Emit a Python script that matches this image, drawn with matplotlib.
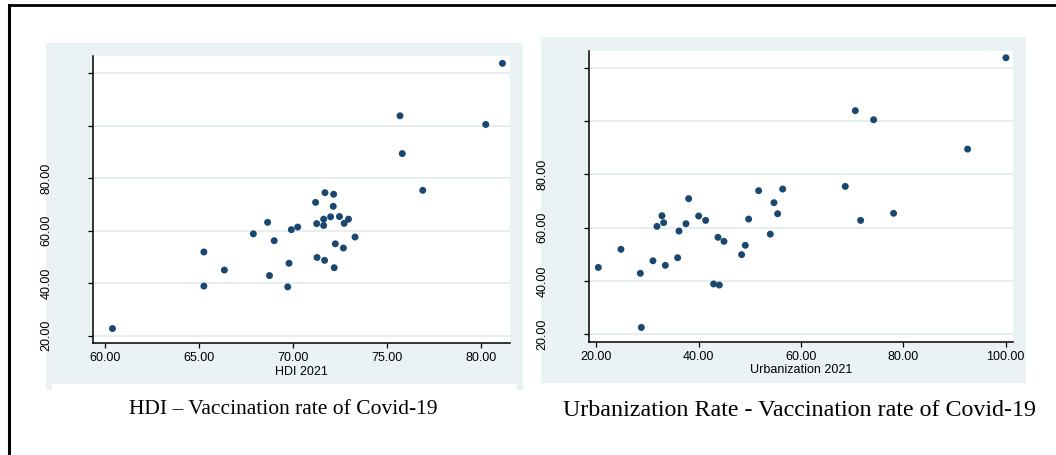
import matplotlib
matplotlib.use("Agg")
import matplotlib.pyplot as plt
from matplotlib.patches import Rectangle
from matplotlib.lines import Line2D

# ---------------- data ----------------
hdi = [60.40, 65.26, 65.26, 66.35, 67.89, 68.65, 68.75, 69.00, 69.72, 69.79,
       69.91, 70.25, 71.20, 71.26, 71.28, 71.70, 71.63, 71.63, 71.68, 72.16,
       72.14, 72.00, 72.25, 72.19, 72.47, 72.72, 72.95, 72.68, 73.30, 75.69,
       75.81, 76.90, 80.25, 81.14]
vacc_hdi = [22.7, 51.9, 38.9, 45.0, 58.8, 63.2, 42.9, 56.2, 38.6, 47.6,
            60.4, 61.4, 70.8, 62.7, 49.8, 74.5, 64.4, 62.0, 48.7, 73.9,
            69.3, 65.3, 55.0, 45.9, 65.4, 62.8, 64.4, 53.4, 57.6, 103.8,
            89.4, 75.4, 100.5, 123.8]

urban = [20.39, 24.82, 28.60, 28.80, 31.07, 31.86, 32.83, 33.16, 33.49, 35.90,
         36.16, 37.52, 38.05, 40.00, 41.37, 42.93, 43.78, 44.04, 44.95, 48.40,
         49.12, 49.77, 51.73, 54.00, 54.72, 55.44, 56.42, 68.66, 70.62, 71.66,
         74.20, 78.10, 92.57, 100.06]
vacc_urban = [45.1, 51.9, 42.9, 22.6, 47.6, 60.5, 64.5, 61.9, 45.9, 48.75,
              58.75, 61.5, 70.9, 64.4, 62.75, 38.9, 56.4, 38.5, 54.9, 49.9,
              53.4, 63.25, 73.9, 57.6, 69.4, 65.25, 74.5, 75.5, 103.9, 62.75,
              100.5, 65.4, 89.5, 123.75]

y_ticks = [20, 40, 60, 80, 100, 120]
y_ticklabels = ["20.00", "40.00", "60.00", "80.00", "", ""]
x1_ticks = [60, 65, 70, 75, 80]
x1_ticklabels = ["60.00", "65.00", "70.00", "75.00", "80.00"]
x2_ticks = [20, 40, 60, 80, 100]
x2_ticklabels = ["20.00", "40.00", "60.00", "80.00", "100.00"]
x1_label = "HDI 2021"
x2_label = "Urbanization 2021"
caption1 = "HDI \u2013 Vaccination rate of Covid-19"
caption2 = "Urbanization Rate - Vaccination rate of Covid-19"

# ---------------- style ----------------
W, H = 1056, 455
BG = "#EAF2F3"
GRID = "#E4EDEF"
NAVY = "#1a476f"
plt.rcParams["font.family"] = ["Liberation Sans", "DejaVu Sans"]

fig = plt.figure(figsize=(W / 100, H / 100), dpi=100)
fig.patch.set_facecolor("white")


def fx(px):
    return px / W


def fy(py):
    return 1 - py / H


def rect_px(x0, y0, x1, y1, color, z=-2):
    fig.patches.append(Rectangle((fx(x0), fy(y1)), fx(x1) - fx(x0), fy(y0) - fy(y1),
                                 transform=fig.transFigure, facecolor=color,
                                 edgecolor="none", zorder=z))


# panel backgrounds
rect_px(46, 43, 523, 390, BG, z=-2)
rect_px(52, 384, 517, 400, "white", z=-1.5)
rect_px(541, 37, 1026, 383, BG, z=-2)

# outer border (top and left)
fig.lines.append(Line2D([fx(9), fx(1056)], [fy(5), fy(5)], transform=fig.transFigure,
                        color="black", lw=2.0, zorder=5))
fig.lines.append(Line2D([fx(9), fx(9)], [fy(5), fy(455)], transform=fig.transFigure,
                        color="black", lw=2.2, zorder=5))


def make_panel(rect, x, y, xticks, xticklabels, xlim, ylim, xlabel):
    ax = fig.add_axes(rect)
    ax.set_zorder(2)
    ax.set_facecolor("white")
    ax.scatter(x, y, s=25, color=NAVY, edgecolors="none", zorder=3)
    ax.set_xlim(*xlim)
    ax.set_ylim(*ylim)
    ax.set_yticks(y_ticks)
    ax.set_yticklabels(y_ticklabels, rotation=90, va="center", fontsize=9)
    ax.set_xticks(xticks)
    ax.set_xticklabels(xticklabels, fontsize=9)
    ax.yaxis.grid(True, color=GRID, lw=1.3)
    ax.set_axisbelow(True)
    for s in ["top", "right"]:
        ax.spines[s].set_visible(False)
    for s in ["left", "bottom"]:
        ax.spines[s].set_linewidth(1.1)
        ax.spines[s].set_color("black")
    ax.tick_params(axis="y", length=3.6, width=0.9, pad=26)
    ax.tick_params(axis="x", length=3.6, width=0.9, pad=3)
    ax.set_xlabel(xlabel, fontsize=9, labelpad=1)
    return ax


make_panel([fx(93.3), fy(343), fx(510) - fx(93.3), fy(56) - fy(343)],
           hdi, vacc_hdi, x1_ticks, x1_ticklabels, (59.38, 81.54), (17.2, 126.6), x1_label)
make_panel([fx(589.3), fy(341.7), fx(1013.3) - fx(589.3), fy(50.7) - fy(341.7)],
           urban, vacc_urban, x2_ticks, x2_ticklabels, (18.63, 101.5), (17.25, 126.4), x2_label)

fig.text(fx(283.5), fy(414), caption1, ha="center", va="baseline", fontsize=15.5,
         family=["Liberation Serif", "DejaVu Serif"])
fig.text(fx(799.5), fy(416), caption2, ha="center", va="baseline", fontsize=17.3,
         family=["Liberation Serif", "DejaVu Serif"])

fig.savefig("out.png", dpi=100, facecolor="white")
